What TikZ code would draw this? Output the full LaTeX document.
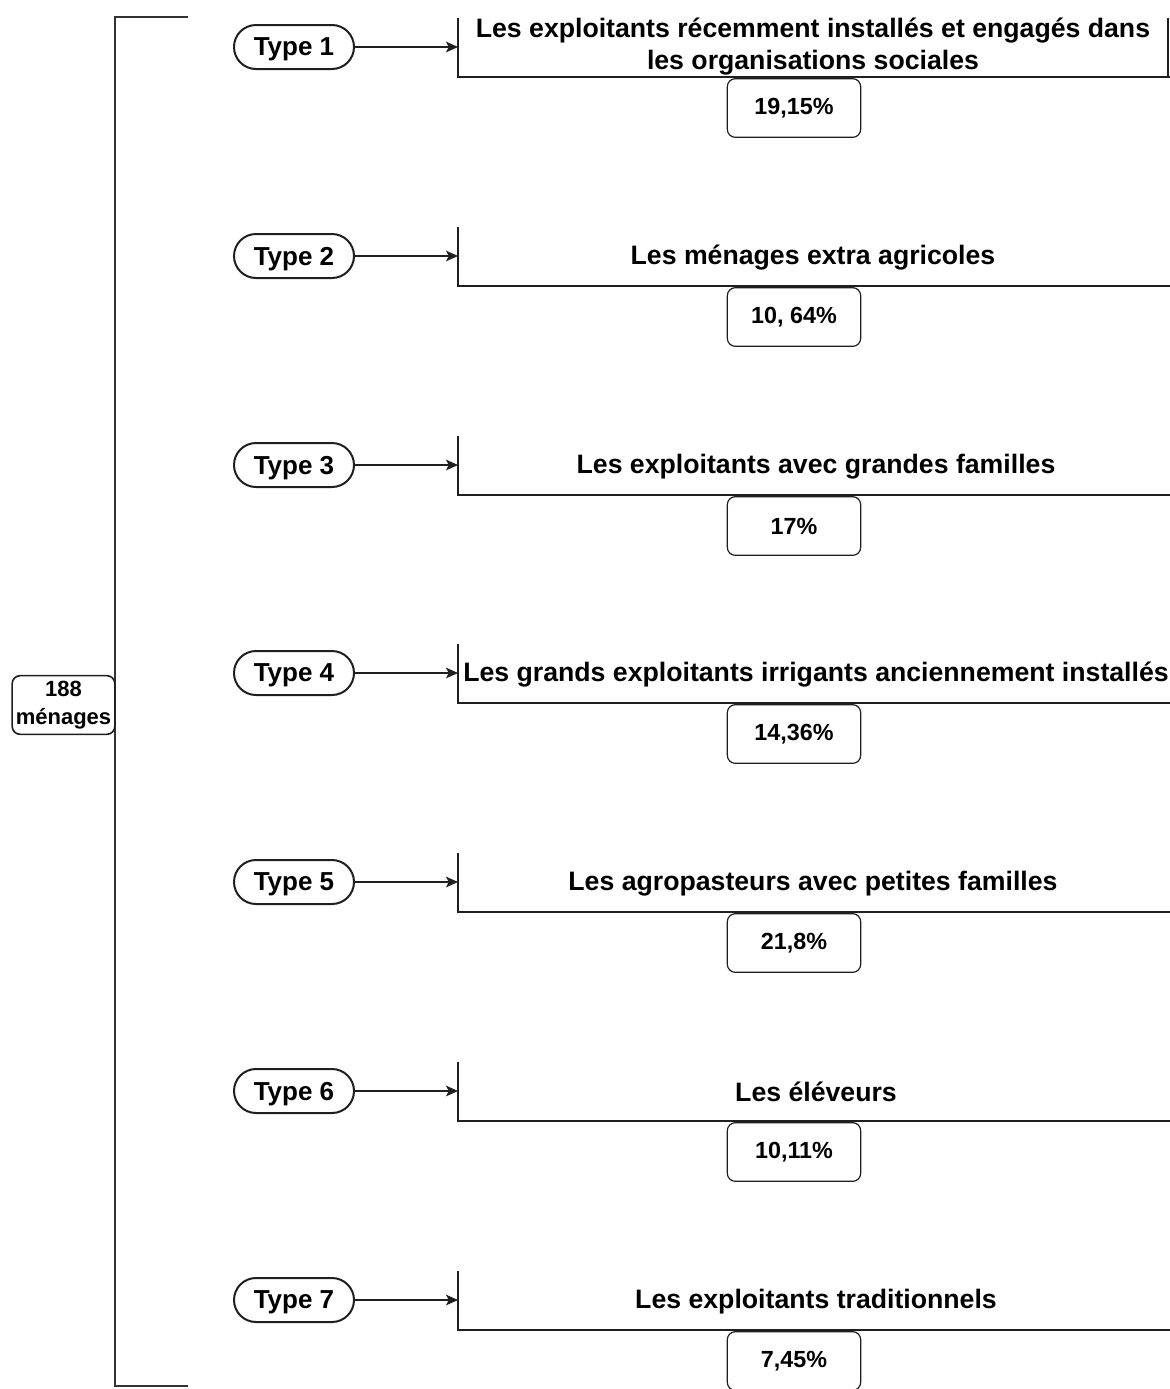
\documentclass[tikz,border=0pt]{standalone}
\usepackage{fontspec}
\setmainfont{Liberation Sans}
\usetikzlibrary{arrows.meta}
\begin{document}
\begin{tikzpicture}[x=0.75pt,y=-0.75pt,
  linecol/.style={draw=black!88},
  typebox/.style={linecol, line width=1.5pt, rounded corners=16.5pt, minimum width=90pt, minimum height=33pt, inner sep=0pt, text depth=0pt, font=\fontsize{19.5}{22}\selectfont\bfseries},
  pctbox/.style={linecol, line width=0.9pt, rounded corners=6pt, minimum width=100pt, minimum height=44pt, inner sep=0pt, fill=white, font=\fontsize{17.5}{20}\selectfont\bfseries},
  titletext/.style={inner sep=0pt, align=center, font=\fontsize{20}{24}\selectfont\bfseries},
  edge/.style={linecol, line width=0.9pt},
  arr/.style={draw=black!88, fill=black!88, line width=0.9pt, -{Stealth[length=9pt,width=8pt,inset=2pt]}},
  bracket/.style={draw=black!80, line width=2pt}
]
\useasboundingbox (0,0) rectangle (1170,1389);

% bracket and total
\coordinate (bt) at (188,17);
\coordinate (btl) at (115,17);
\coordinate (bbl) at (115,1386);
\coordinate (bb) at (188,1386);
\draw[bracket] (bt) -- (btl) -- (bbl) -- (bb);
\node[pctbox, line width=1.2pt, minimum width=77pt, minimum height=44pt, font=\fontsize{16.5}{21}\selectfont\bfseries, align=center] (total) at (63.5,705) {188\\ménages};

% rows
\foreach \i/\y/\p in {1/47/19{,}15\%, 2/256/10{,} 64\%, 3/465/17\%, 4/673/14{,}36\%, 5/882/21{,}8\%, 6/1091/10{,}11\%, 7/1300/7{,}45\%} {
  \node[typebox] (type\i) at (294,\y) {Type \i};
  \coordinate (in\i) at (458,\y);
  \coordinate (top\i) at (458,\y-29);
  \coordinate (bot\i) at (458,\y+30);
  \coordinate (end\i) at (1172,\y+30);
  \draw[edge] (top\i) -- (bot\i) -- (end\i);
  \draw[arr] (type\i.east) -- (in\i);
  \node[pctbox] (pct\i) at (794,\y+61) {\p};
}
\node[titletext] (title1) at (813,47) {Les exploitants récemment installés et engagés dans\\les organisations sociales};
\coordinate (r1t) at (1168,18);
\coordinate (r1b) at (1168,77);
\draw[edge] (r1t) -- (r1b);
\node[titletext] (title2) at (813,258) {Les ménages extra agricoles};
\node[titletext] (title3) at (816,467) {Les exploitants avec grandes familles};
\node[titletext] (title4) at (816,675) {Les grands exploitants irrigants anciennement installés};
\node[titletext] (title5) at (813,884) {Les agropasteurs avec petites familles};
\node[titletext] (title6) at (816,1092) {Les éléveurs};
\node[titletext] (title7) at (816,1302) {Les exploitants traditionnels};
\end{tikzpicture}
\end{document}
